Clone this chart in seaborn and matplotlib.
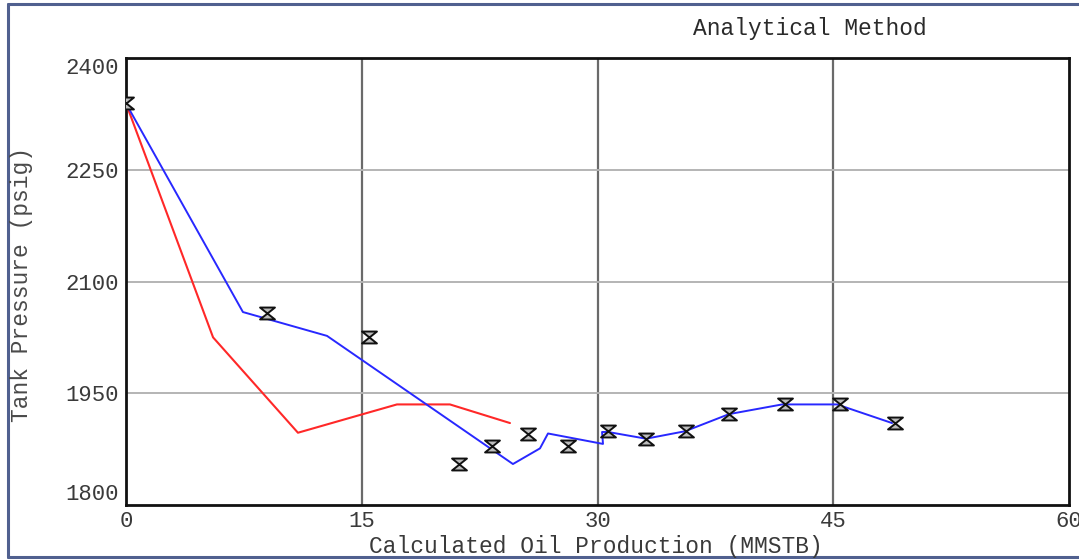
import matplotlib
matplotlib.use("Agg")
import matplotlib.pyplot as plt
from matplotlib.path import Path
from matplotlib.lines import Line2D
import seaborn as sns
import pandas as pd

# Analytical-method model (blue)
blue_x = [0, 7.44, 12.79, 24.62, 26.34, 26.85, 30.35, 30.29, 30.67, 33.09, 35.57, 38.37, 41.75, 45.24, 48.74]
blue_y = [2339, 2059, 2027, 1855, 1876, 1896, 1882, 1898, 1898, 1889, 1899, 1922, 1935, 1935, 1910]

# Alternative model (red)
red_x = [0, 5.54, 10.94, 14.25, 17.24, 20.61, 24.43]
red_y = [2339, 2025, 1897, 1917, 1935, 1935, 1910]

# Observed tank pressures
obs_x = [0, 8.97, 15.46, 21.19, 23.29, 25.58, 28.12, 30.67, 33.09, 35.63, 38.37, 41.93, 45.43, 48.93]
obs_y = [2339, 2058, 2025, 1855, 1879, 1895, 1879, 1899, 1889, 1899, 1922, 1935, 1935, 1910]

x_ticks = [0, 15, 30, 45, 60]
y_ticks = [1800, 1950, 2100, 2250, 2400]

sns.set_theme(style="white")
plt.rcParams["font.family"] = ["Liberation Mono", "DejaVu Sans Mono"]

fig = plt.figure(figsize=(10.79, 5.60), dpi=100)
ax = fig.add_axes([126 / 1079, 1 - 505 / 560, (1069 - 126) / 1079, (505 - 58) / 560])

blue_df = pd.DataFrame({"x": blue_x, "y": blue_y})
red_df = pd.DataFrame({"x": red_x, "y": red_y})
obs_df = pd.DataFrame({"x": obs_x, "y": obs_y})

sns.lineplot(data=red_df, x="x", y="y", sort=False, color="#ff2828", lw=1.5, ax=ax, zorder=3)
sns.lineplot(data=blue_df, x="x", y="y", sort=False, color="#2828ff", lw=1.4, ax=ax, zorder=4)

# hourglass marker
hourglass = Path([(-1, 0.8), (1, 0.8), (-1, -0.8), (1, -0.8), (-1, 0.8)],
                 [Path.MOVETO, Path.LINETO, Path.LINETO, Path.LINETO, Path.CLOSEPOLY])
sns.scatterplot(data=obs_df, x="x", y="y", marker=hourglass, s=115,
                facecolor="#bdbdbd", edgecolor="#111111", linewidth=1.4, ax=ax, zorder=5)

ax.set_xlim(0, 60)
ax.set_ylim(1800, 2400)
ax.set_xticks(x_ticks)
ax.set_yticks(y_ticks)
ax.set_xlabel("")
ax.set_ylabel("")

for xv in x_ticks[1:-1]:
    ax.axvline(xv, color="#6a6a6a", lw=1.6, zorder=1)
for yv in y_ticks[1:-1]:
    ax.axhline(yv, color="#b4b4b4", lw=1.4, zorder=1)

for side in ["left", "bottom", "top", "right"]:
    ax.spines[side].set_color("#111111")
    ax.spines[side].set_linewidth(2.0)

ax.tick_params(axis="both", length=0, labelsize=16, labelcolor="#3a3a3a")
ax.tick_params(axis="x", pad=4)
ax.tick_params(axis="y", pad=5)
ylabels = ax.get_yticklabels()
ylabels[-1].set_verticalalignment("top")
ylabels[0].set_verticalalignment("bottom")

fig.text(810 / 1079, 1 - 28 / 560, "Analytical Method", ha="center", va="center",
         fontsize=16.5, color="#2a2a2a")
fig.text(596 / 1079, 1 - 547 / 560, "Calculated Oil Production (MMSTB)", ha="center",
         va="center", fontsize=16.5, color="#3a3a3a")
fig.text(22 / 1079, 1 - 285 / 560, "Tank Pressure (psig)", ha="center", va="center",
         rotation=90, fontsize=16.5, color="#4a4a4a")

# outer frame
frame_color = "#50608f"
fig.add_artist(Line2D([8 / 1079, 8 / 1079], [1 - 557 / 560, 1 - 4 / 560], color=frame_color, lw=2.2))
fig.add_artist(Line2D([8 / 1079, 1], [1 - 4 / 560, 1 - 4 / 560], color=frame_color, lw=2.2))
fig.add_artist(Line2D([8 / 1079, 1], [1 - 557 / 560, 1 - 557 / 560], color=frame_color, lw=2.2))

fig.savefig("out.png", dpi=100, facecolor="white")
